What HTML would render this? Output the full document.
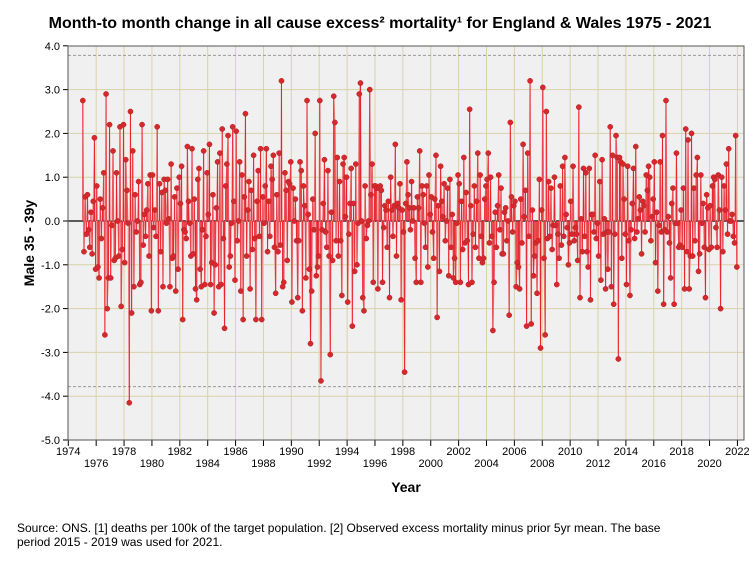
<!DOCTYPE html>
<html><head><meta charset="utf-8">
<style>
html,body{margin:0;padding:0;background:#fff;}
body{width:754px;height:564px;overflow:hidden;font-family:"Liberation Sans",sans-serif;}
</style></head>
<body>
<svg id="chart" width="754" height="564" xmlns="http://www.w3.org/2000/svg" font-family="Liberation Sans, sans-serif">
<text x="380" y="28" text-anchor="middle" font-size="16" font-weight="bold">Month-to month change in all cause excess² mortality¹  for England &amp; Wales 1975 - 2021</text>
<rect x="68" y="46" width="676" height="394" fill="#f0f0f0" stroke="none"/>
<g id="grid"></g>
<g id="axes"></g>
<g id="series"></g>
<rect x="68" y="46" width="676" height="394" fill="none" stroke="#555" stroke-width="1"/>
<text transform="translate(34,243) rotate(-90)" text-anchor="middle" font-size="14" font-weight="bold">Male 35 - 39y</text>
<text x="406" y="492" text-anchor="middle" font-size="14" font-weight="bold">Year</text>
<text x="17" y="532" font-size="12">Source: ONS. [1] deaths per 100k of the target population. [2] Observed excess mortality minus prior 5yr mean. The base</text>
<text x="17" y="546" font-size="12">period 2015 - 2019 was used for 2021.</text>
</svg>
<script>
const startYear = 1975;
const yTicks = [4,3,2,1,0,-1,-2,-3,-4,-5];
const yTickLabels = ["4.0","3.0","2.0","1.0","0.0","-1.0","-2.0","-3.0","-4.0","-5.0"];
const xTicks = [1974,1976,1978,1980,1982,1984,1986,1988,1990,1992,1994,1996,1998,2000,2002,2004,2006,2008,2010,2012,2014,2016,2018,2020,2022];
const limits = [3.78,-3.78];
const values = [
2.75,-0.7,0.55,-0.3,0.6,-0.2,-0.6,0.2,-0.75,0.45,1.9,-1.1,
0.8,-1.05,-1.3,0.5,-0.4,0.3,1.1,-2.6,2.9,-2.0,-1.3,2.2,
-1.3,-0.1,1.6,-0.9,-0.85,1.1,0.0,-0.8,2.15,-1.95,-0.65,2.2,
-0.95,1.4,0.7,-0.05,-4.15,2.5,-2.1,1.6,-1.5,0.6,-0.25,0.0,
0.9,-1.45,-1.4,2.2,-0.55,0.15,-0.35,0.25,0.85,-0.8,1.05,-2.05,
1.05,-0.15,0.25,-0.35,2.15,-2.05,0.85,-0.7,0.65,-1.5,0.95,0.7,
-0.05,0.95,0.05,-1.5,1.3,-0.85,-0.8,0.55,-1.6,0.75,-1.1,1.0,
0.4,1.25,-2.25,-0.2,-0.25,-0.4,1.7,0.45,-0.05,-0.8,1.65,-0.75,
0.5,-1.55,-1.8,0.95,1.2,-1.1,-1.5,-0.2,1.6,-1.45,-0.35,1.1,
0.15,1.75,-1.45,-0.95,0.6,-2.1,-1.0,0.3,1.35,-1.5,1.55,-1.45,
2.1,-0.4,-2.45,0.8,1.3,1.95,-1.05,-0.8,-0.05,2.15,0.45,-1.35,
2.05,-0.45,0.0,1.35,-1.6,1.05,-2.25,0.55,2.45,-0.8,0.25,0.9,
-1.55,0.7,-0.65,1.5,-0.4,-2.25,0.45,1.15,-0.35,1.65,-2.25,0.55,
-0.05,0.8,1.65,-0.7,0.45,-0.35,1.25,0.95,1.5,-0.6,-1.65,0.6,
-0.7,1.55,-0.55,3.2,-1.5,-1.4,1.1,0.7,-0.9,0.9,0.85,1.35,
-1.85,0.75,0.0,0.5,-0.45,-1.75,-0.45,1.35,1.15,-2.05,0.8,0.35,
-1.3,2.75,0.15,-1.1,-2.8,-1.6,0.5,-0.2,2.0,-1.25,-1.05,-0.8,
2.75,-3.65,-0.2,0.4,1.4,-0.25,-0.6,1.15,-0.8,-3.05,0.2,-0.9,
2.85,2.25,-0.45,1.45,-0.8,0.9,-0.45,-1.7,1.3,1.45,0.1,1.0,
-1.85,-0.3,0.4,1.2,-2.4,0.4,-1.15,1.3,-1.0,-0.05,2.9,3.15,
0.0,-1.75,-2.05,0.8,-0.4,-0.1,0.0,3.0,0.6,1.3,-1.4,0.8,
0.8,0.75,-1.55,0.75,0.8,0.7,-1.4,-0.15,0.35,0.25,-0.6,0.45,
-1.75,1.0,0.25,-0.35,0.35,1.75,-0.8,0.4,0.3,0.85,-1.8,0.25,
-0.25,-3.45,0.4,1.35,0.6,0.3,-0.2,0.9,0.0,0.3,-0.85,-1.4,
0.55,0.3,1.6,-1.4,0.8,0.6,-0.05,-0.6,0.8,-1.05,1.05,0.15,
0.55,-0.25,-0.85,0.5,1.5,-2.2,0.35,-1.15,1.25,0.45,0.1,0.85,
-0.45,0.0,0.75,-1.25,0.95,-0.6,0.15,-1.3,-0.85,-1.4,-0.05,1.05,
0.85,-1.4,0.45,-0.65,1.45,-0.5,0.65,-0.45,-1.45,2.55,0.35,-1.4,
-0.3,0.8,-0.6,0.45,1.55,-0.85,1.05,-0.35,-0.95,-0.85,0.5,0.8,
0.95,1.55,-0.5,1.0,-0.35,-2.5,-1.4,0.2,-0.6,0.35,1.05,-0.2,
0.75,-0.75,-0.75,0.2,0.3,-0.45,0.0,-2.15,2.25,0.55,-0.25,0.35,
0.45,-1.5,-0.95,-1.05,-1.55,0.5,-0.5,1.75,0.1,0.7,-2.4,1.55,
-0.35,3.2,-2.35,0.25,-1.25,-0.8,-0.5,-1.65,-0.45,0.95,-2.9,0.25,
3.05,-0.85,-2.6,2.5,-0.4,0.9,-0.35,0.75,-0.65,-0.1,1.0,-0.1,
-1.45,-0.3,-0.85,0.8,-0.55,1.25,-0.35,1.45,0.15,-0.15,-1.0,-0.5,
0.45,-0.3,1.25,-0.45,-0.15,-0.3,-0.9,2.6,-1.75,0.05,-0.7,1.2,
-0.35,1.1,-0.7,-1.05,1.2,-1.8,0.15,0.15,-0.25,1.5,-0.4,-0.05,
-0.8,0.9,-1.35,1.4,-0.3,0.05,-1.55,-0.25,-1.1,-0.25,2.15,-1.5,
1.5,-1.9,-0.3,1.95,1.45,-3.15,1.45,1.35,-0.85,1.3,0.5,-0.3,
-1.45,1.25,-0.45,-1.7,-0.2,0.4,1.2,-0.4,1.7,-0.25,0.05,0.55,
0.25,-0.75,0.45,0.35,-0.25,1.05,0.7,1.25,1.0,-0.45,0.1,0.5,
1.35,-0.95,0.2,-1.6,-0.1,1.35,-0.25,1.95,-1.9,-0.2,2.75,-0.25,
0.1,-0.5,-1.3,0.4,0.75,-1.9,-0.05,1.55,-0.05,-0.6,-0.55,0.25,
-0.6,0.75,-1.55,2.1,-0.7,1.85,-1.55,-0.8,2.0,-0.8,0.75,-0.45,
1.05,1.45,-1.15,-0.75,1.05,-0.05,0.4,-0.6,-1.75,0.6,0.3,-0.65,
0.35,-0.6,0.8,1.0,0.95,-0.15,-0.6,1.05,0.25,-2.0,1.0,-0.7,
0.8,0.25,1.3,-0.3,1.65,0.0,0.0,0.15,-0.35,-0.5,1.95,-1.05
];
</script>
<script>
const NS="http://www.w3.org/2000/svg";
const X0=68.3, PXY=13.94, Y0=221, PXV=43.8;
const xs=t=>X0+(t-1974)*PXY;
const ys=v=>Y0-v*PXV;
const grid=document.getElementById('grid'), axes=document.getElementById('axes'), ser=document.getElementById('series');
function mk(tag,attrs,parent){const e=document.createElementNS(NS,tag);for(const k in attrs)e.setAttribute(k,attrs[k]);parent.appendChild(e);return e;}
yTicks.forEach((v,i)=>{
  const y=ys(v);
  if(v!==0&&v!==4&&v!==-5){const l=mk('line',{x1:68,x2:744,y1:y,y2:y,stroke:'#d8d3a8','stroke-width':1},grid);
  
  }
  const tk=mk('line',{x1:63,x2:68,y1:y,y2:y,stroke:'#000'},axes);
  
  
  const t=mk('text',{x:60,y:y+4,'text-anchor':'end','font-size':11},axes);
  t.textContent=yTickLabels[i];
  
  
});
xTicks.forEach((yr,i)=>{
  const x=xs(yr);
  if(i>0){const l=mk('line',{x1:x,x2:x,y1:46,y2:440,stroke:'#d8d3a8','stroke-width':1},grid);
  
  }
  const tk=mk('line',{x1:x,x2:x,y1:440,y2:446,stroke:'#000'},axes);
  
  
  const t=mk('text',{x:x,y:i%2===0?455:467,'text-anchor':'middle','font-size':11},axes);
  t.textContent=yr;
  
  
});
limits.forEach(v=>{
  const l=mk('line',{x1:68,x2:744,y1:ys(v),y2:ys(v),stroke:'#999','stroke-dasharray':'3,2'},grid);
  
  
});
const zl=mk('line',{x1:68,x2:744,y1:ys(0),y2:ys(0),stroke:'#000','stroke-width':1.2},axes);


const pts=values.map((v,i)=>[xs(startYear+(i+0.5)/12),ys(v)]);
const pl=mk('polyline',{points:pts.map(p=>p[0].toFixed(2)+','+p[1].toFixed(2)).join(' '),fill:'none',stroke:'#f08a8e','stroke-width':1},ser);


pts.forEach(p=>{
  const d=mk('line',{x1:p[0],x2:p[0],y1:ys(0),y2:p[1],stroke:'#e8202a','stroke-width':1},ser);
  
  
});
pts.forEach(p=>{
  const c=mk('circle',{cx:p[0],cy:p[1],r:2.6,fill:'#d42a2e',stroke:'#b51d22','stroke-width':0.5},ser);
  
  
});
</script>
</body></html>
